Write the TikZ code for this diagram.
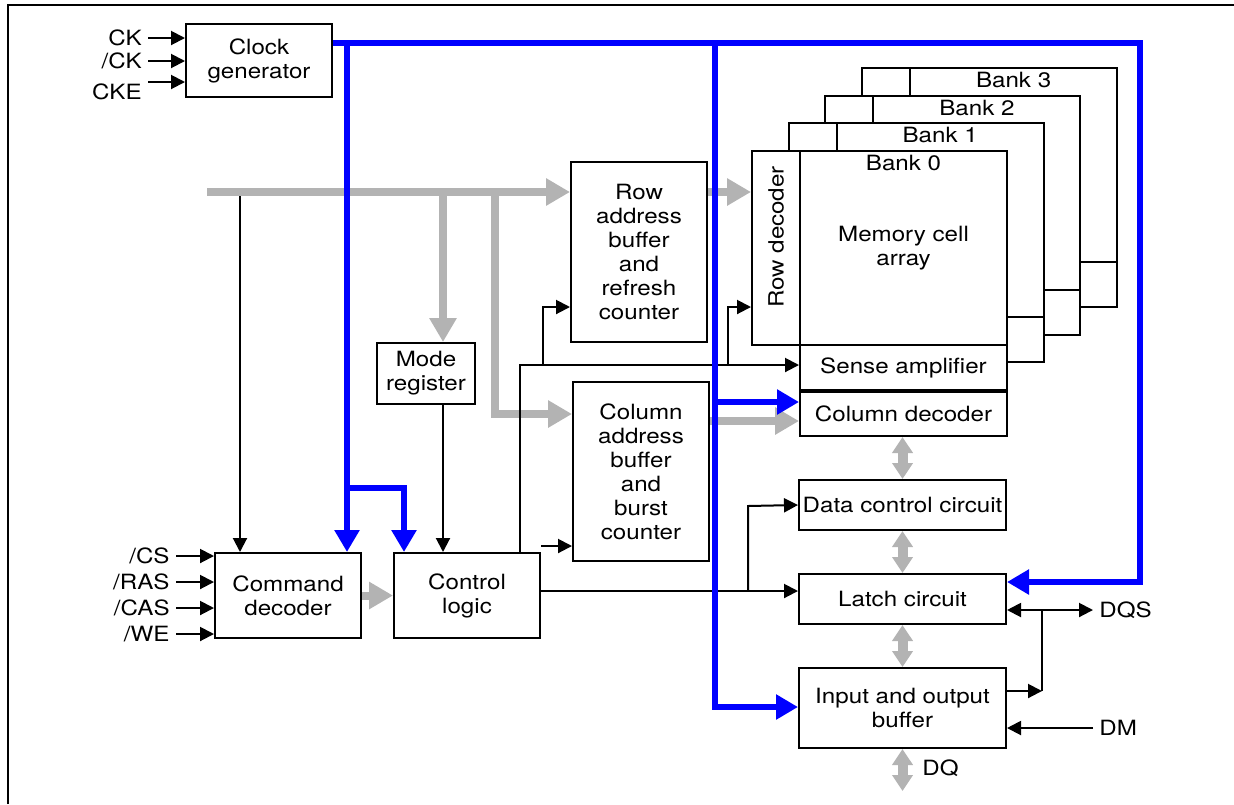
\documentclass[tikz,border=0pt]{standalone}
\usepackage{fontspec}
\setmainfont{TeX Gyre Heros}[FakeStretch=1.15]
\usetikzlibrary{arrows.meta}
\definecolor{clkblue}{RGB}{0,0,255}
\definecolor{busgray}{RGB}{179,179,179}

\begin{document}
\begin{tikzpicture}[x=0.5pt, y=-0.5pt, font=\fontsize{10.5}{12}\selectfont,
    box/.style={draw, fill=white, line width=1pt, inner sep=0pt, align=center},
    pin/.style={inner sep=3pt},
    sig/.style={line width=1pt, -{Triangle[length=7pt,width=7pt]}},
    bisig/.style={line width=1pt, {Triangle[length=7pt,width=7pt]}-{Triangle[length=7pt,width=7pt]}},
    clkbus/.style={draw=clkblue, line width=3pt, -{Triangle[length=11pt,width=12pt]}},
    addrbus/.style={draw=busgray, line width=4pt, -{Triangle[length=12pt,width=13pt]}},
    databus/.style={draw=busgray, line width=5pt, {Triangle[length=8pt,width=10pt]}-{Triangle[length=8pt,width=10pt]}}]
\useasboundingbox (0,0) rectangle (1234,804);

% frame
\draw[line width=1pt] (8,804) -- (8,5) -- (1234,5);

% banks, back to front
\foreach \k in {3,2,1,0} {
  \begin{scope}[shift={(36.7*\k,-27.7*\k)}]
    \node (row\k) at (776,248) [box, minimum width=24pt, minimum height=97pt] {};
    \node (mem\k) at (903.5,248) [box, minimum width=103.5pt, minimum height=97pt] {};
    \node (sa\k) at (903.5,367.5) [box, minimum width=103.5pt, minimum height=22.5pt] {};
    \node (bank\k) at (903.5,163) {Bank \k};
  \end{scope}
}
\node (rowtxt) at ([yshift=5.5pt]row0) [rotate=90] {Row decoder};
\node (memtxt) at (mem0) [align=center] {Memory cell\\array};
\node (satxt) at (sa0) {Sense amplifier};
\node (coldec) at (903.5,414) [box, minimum width=103.5pt, minimum height=22pt] {Column decoder};

% blocks
\node (clk) at (259,60.5) [box, minimum width=73pt, minimum height=36.5pt] {Clock\\generator};
\node (cmd) at (288,595.5) [box, minimum width=73pt, minimum height=42.5pt] {Command\\decoder};
\node (ctl) at (467,595.5) [box, minimum width=73pt, minimum height=42.5pt] {Control\\logic};
\node (mode) at (426,373.5) [box, minimum width=49pt, minimum height=30.5pt] {Mode\\register};
\node (rab) at (639,252) [box, minimum width=68pt, minimum height=90pt] {Row\\address\\buffer\\and\\refresh\\counter};
\node (cab) at (641,471.5) [box, minimum width=68pt, minimum height=89.5pt] {Column\\address\\buffer\\and\\burst\\counter};
\node (dcc) at (902.5,505) [box, minimum width=103.5pt, minimum height=25pt] {Data control circuit};
\node (latch) at (902.5,599) [box, minimum width=103.5pt, minimum height=25pt] {Latch circuit};
\node (iob) at (902.5,708) [box, minimum width=103.5pt, minimum height=40pt] {Input and output\\buffer};

% pins
\node (ckL) at (148,38) [pin, anchor=east] {CK};
\node (nckL) at (148,61) [pin, anchor=east] {/CK};
\node (ckeL) at (148,92) [pin, anchor=east] {CKE};
\coordinate (cke) at (148,82);
\node (csL) at (176,556) [pin, anchor=east] {/CS};
\node (rasL) at (176,582) [pin, anchor=east] {/RAS};
\node (casL) at (176,608) [pin, anchor=east] {/CAS};
\node (weL) at (176,634) [pin, anchor=east] {/WE};
\node (dqsL) at (1093,610) [pin, anchor=west] {DQS};
\node (dmL) at (1093,728) [pin, anchor=west] {DM};
\node (dqL) at (916,768) [pin, anchor=west] {DQ};
\coordinate (dq) at (902.5,791);

% address buses
\draw[addrbus] (207,192) -- (rab.west |- 0,192);
\draw[addrbus] (443,192) -- (mode.north -| 443,0);
\draw[addrbus] (495,192) -- (495,414) -- (cab.west |- 0,414);
\draw[addrbus] (rab.east |- 0,192) -- (row0.west |- 0,192);
\draw[addrbus] (cab.east |- 0,421) -- (coldec.west |- 0,421);
\draw[addrbus] (cmd) -- (ctl);

% data path
\draw[databus] (dcc.north |- coldec.south) -- (dcc.north);
\draw[databus] (dcc.south) -- (latch.north);
\draw[databus] (latch.south) -- (iob.north);
\draw[databus] (iob.south) -- (dq);

% control signals
\draw[sig] (ckL) -- (clk.west |- ckL);
\draw[sig] (nckL) -- (clk.west |- nckL);
\draw[sig] (cke) -- (clk.west |- cke);
\draw[sig] (csL) -- (cmd.west |- csL);
\draw[sig] (rasL) -- (cmd.west |- rasL);
\draw[sig] (casL) -- (cmd.west |- casL);
\draw[sig] (weL) -- (cmd.west |- weL);
\draw[sig] (240,196) -- (cmd.north -| 240,0);
\draw[sig] (mode.south -| 443,0) -- (ctl.north -| 443,0);
\draw[sig] (ctl.north -| 520,0) -- (520,365) -- (sa0.west |- 0,365);
\draw[sig] (543,365) -- (543,307) -- (rab.west |- 0,307);
\draw[sig] (728,365) -- (728,307) -- (row0.west |- 0,307);
\draw[sig] (ctl.east |- 0,546) -- (cab.west |- 0,546);
\draw[sig] (ctl.east |- 0,591) -- (latch.west |- 0,591);
\draw[sig] (748,591) -- (748,506) -- (dcc.west);
\draw[bisig] (latch.east |- dqsL) -- (dqsL);
\draw[line width=1pt] (1042,610) -- (1042,691);
\draw[sig] (iob.east |- 0,691) -- (1042,691);
\draw[sig] (dmL) -- (iob.east |- dmL);

% clock lines
\draw[clkbus] (clk.east |- 0,43) -- (1140,43) -- (1140,582) -- (latch.east |- 0,582);
\draw[clkbus] (347,43) -- (cmd.north -| 347,0);
\draw[clkbus] (347,488) -- (404,488) -- (ctl.north -| 404,0);
\draw[clkbus] (715,43) -- (715,707) -- (iob.west |- 0,707);
\draw[clkbus] (715,402) -- (coldec.west |- 0,402);
\end{tikzpicture}
\end{document}
